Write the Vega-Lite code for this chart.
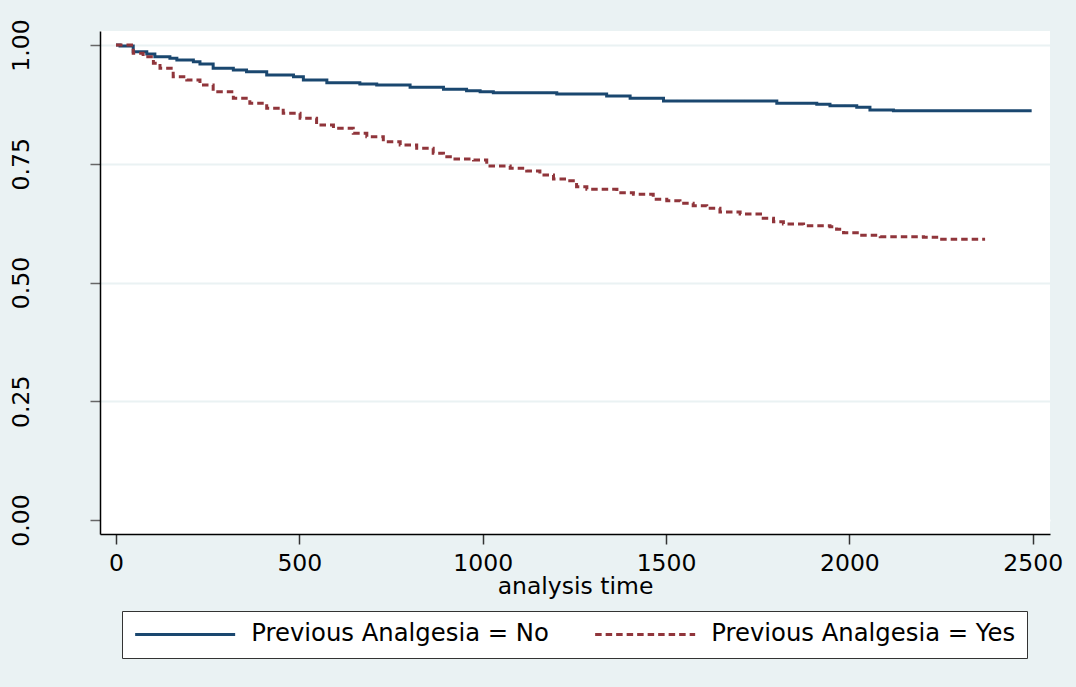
{
  "$schema": "https://vega.github.io/schema/vega-lite/v6.json",
  "autosize": {"type": "none"},
  "width": 950,
  "height": 503,
  "padding": {"left": 100, "top": 31, "right": 26, "bottom": 153},
  "background": "#EAF2F3",
  "config": {
    "view": {"stroke": null, "fill": "white"},
    "font": "DejaVu Sans"
  },
  "data": {
    "values": [
      {"group": "Previous Analgesia = No", "t": 0, "s": 1.0},
      {"group": "Previous Analgesia = No", "t": 11, "s": 0.9979},
      {"group": "Previous Analgesia = No", "t": 47, "s": 0.9859},
      {"group": "Previous Analgesia = No", "t": 84, "s": 0.9811},
      {"group": "Previous Analgesia = No", "t": 106, "s": 0.9754},
      {"group": "Previous Analgesia = No", "t": 147, "s": 0.972},
      {"group": "Previous Analgesia = No", "t": 166, "s": 0.9684},
      {"group": "Previous Analgesia = No", "t": 211, "s": 0.9648},
      {"group": "Previous Analgesia = No", "t": 229, "s": 0.96},
      {"group": "Previous Analgesia = No", "t": 265, "s": 0.9509},
      {"group": "Previous Analgesia = No", "t": 320, "s": 0.9474},
      {"group": "Previous Analgesia = No", "t": 356, "s": 0.9438},
      {"group": "Previous Analgesia = No", "t": 411, "s": 0.9368},
      {"group": "Previous Analgesia = No", "t": 484, "s": 0.9333},
      {"group": "Previous Analgesia = No", "t": 511, "s": 0.9263},
      {"group": "Previous Analgesia = No", "t": 575, "s": 0.9206},
      {"group": "Previous Analgesia = No", "t": 665, "s": 0.9179},
      {"group": "Previous Analgesia = No", "t": 711, "s": 0.9158},
      {"group": "Previous Analgesia = No", "t": 802, "s": 0.9109},
      {"group": "Previous Analgesia = No", "t": 893, "s": 0.9067},
      {"group": "Previous Analgesia = No", "t": 956, "s": 0.9038},
      {"group": "Previous Analgesia = No", "t": 993, "s": 0.9017},
      {"group": "Previous Analgesia = No", "t": 1029, "s": 0.8996},
      {"group": "Previous Analgesia = No", "t": 1202, "s": 0.8968},
      {"group": "Previous Analgesia = No", "t": 1338, "s": 0.8926},
      {"group": "Previous Analgesia = No", "t": 1402, "s": 0.8878},
      {"group": "Previous Analgesia = No", "t": 1493, "s": 0.8821},
      {"group": "Previous Analgesia = No", "t": 1802, "s": 0.8773},
      {"group": "Previous Analgesia = No", "t": 1911, "s": 0.8752},
      {"group": "Previous Analgesia = No", "t": 1947, "s": 0.8722},
      {"group": "Previous Analgesia = No", "t": 2020, "s": 0.8688},
      {"group": "Previous Analgesia = No", "t": 2056, "s": 0.8632},
      {"group": "Previous Analgesia = No", "t": 2120, "s": 0.8617},
      {"group": "Previous Analgesia = No", "t": 2497, "s": 0.8617},
      {"group": "Previous Analgesia = Yes", "t": 0, "s": 1.0},
      {"group": "Previous Analgesia = Yes", "t": 47, "s": 0.9825},
      {"group": "Previous Analgesia = Yes", "t": 74, "s": 0.9754},
      {"group": "Previous Analgesia = Yes", "t": 102, "s": 0.9615},
      {"group": "Previous Analgesia = Yes", "t": 120, "s": 0.9509},
      {"group": "Previous Analgesia = Yes", "t": 156, "s": 0.9333},
      {"group": "Previous Analgesia = Yes", "t": 193, "s": 0.9263},
      {"group": "Previous Analgesia = Yes", "t": 229, "s": 0.9158},
      {"group": "Previous Analgesia = Yes", "t": 265, "s": 0.9017},
      {"group": "Previous Analgesia = Yes", "t": 320, "s": 0.8878},
      {"group": "Previous Analgesia = Yes", "t": 365, "s": 0.8773},
      {"group": "Previous Analgesia = Yes", "t": 411, "s": 0.8667},
      {"group": "Previous Analgesia = Yes", "t": 456, "s": 0.8562},
      {"group": "Previous Analgesia = Yes", "t": 502, "s": 0.8457},
      {"group": "Previous Analgesia = Yes", "t": 547, "s": 0.8316},
      {"group": "Previous Analgesia = Yes", "t": 593, "s": 0.8246},
      {"group": "Previous Analgesia = Yes", "t": 647, "s": 0.8141},
      {"group": "Previous Analgesia = Yes", "t": 684, "s": 0.807},
      {"group": "Previous Analgesia = Yes", "t": 729, "s": 0.7964},
      {"group": "Previous Analgesia = Yes", "t": 775, "s": 0.7895},
      {"group": "Previous Analgesia = Yes", "t": 820, "s": 0.7825},
      {"group": "Previous Analgesia = Yes", "t": 865, "s": 0.772},
      {"group": "Previous Analgesia = Yes", "t": 893, "s": 0.7649},
      {"group": "Previous Analgesia = Yes", "t": 920, "s": 0.76},
      {"group": "Previous Analgesia = Yes", "t": 975, "s": 0.7579},
      {"group": "Previous Analgesia = Yes", "t": 1011, "s": 0.7453},
      {"group": "Previous Analgesia = Yes", "t": 1075, "s": 0.7404},
      {"group": "Previous Analgesia = Yes", "t": 1120, "s": 0.7347},
      {"group": "Previous Analgesia = Yes", "t": 1156, "s": 0.7263},
      {"group": "Previous Analgesia = Yes", "t": 1193, "s": 0.7179},
      {"group": "Previous Analgesia = Yes", "t": 1229, "s": 0.7143},
      {"group": "Previous Analgesia = Yes", "t": 1256, "s": 0.7017},
      {"group": "Previous Analgesia = Yes", "t": 1284, "s": 0.6962},
      {"group": "Previous Analgesia = Yes", "t": 1366, "s": 0.6891},
      {"group": "Previous Analgesia = Yes", "t": 1411, "s": 0.6857},
      {"group": "Previous Analgesia = Yes", "t": 1465, "s": 0.6752},
      {"group": "Previous Analgesia = Yes", "t": 1502, "s": 0.6722},
      {"group": "Previous Analgesia = Yes", "t": 1538, "s": 0.6667},
      {"group": "Previous Analgesia = Yes", "t": 1574, "s": 0.6617},
      {"group": "Previous Analgesia = Yes", "t": 1611, "s": 0.6562},
      {"group": "Previous Analgesia = Yes", "t": 1647, "s": 0.6484},
      {"group": "Previous Analgesia = Yes", "t": 1702, "s": 0.6442},
      {"group": "Previous Analgesia = Yes", "t": 1765, "s": 0.6352},
      {"group": "Previous Analgesia = Yes", "t": 1793, "s": 0.628},
      {"group": "Previous Analgesia = Yes", "t": 1820, "s": 0.6232},
      {"group": "Previous Analgesia = Yes", "t": 1875, "s": 0.6196},
      {"group": "Previous Analgesia = Yes", "t": 1947, "s": 0.6175},
      {"group": "Previous Analgesia = Yes", "t": 1965, "s": 0.612},
      {"group": "Previous Analgesia = Yes", "t": 1984, "s": 0.6048},
      {"group": "Previous Analgesia = Yes", "t": 2029, "s": 0.5994},
      {"group": "Previous Analgesia = Yes", "t": 2084, "s": 0.5964},
      {"group": "Previous Analgesia = Yes", "t": 2202, "s": 0.5952},
      {"group": "Previous Analgesia = Yes", "t": 2238, "s": 0.5909},
      {"group": "Previous Analgesia = Yes", "t": 2370, "s": 0.5909}
    ]
  },
  "mark": {"type": "line", "interpolate": "step-after", "strokeWidth": 3},
  "encoding": {
    "x": {
      "field": "t",
      "type": "quantitative",
      "scale": {"domain": [-43.6, 2547], "nice": false, "zero": false},
      "axis": {
        "title": "analysis time",
        "values": [0, 500, 1000, 1500, 2000, 2500],
        "format": "d",
        "grid": false,
        "domainColor": "black",
        "domainWidth": 1.5,
        "tickColor": "#333333",
        "tickWidth": 1.5,
        "tickSize": 10,
        "labelPadding": 7,
        "labelFontSize": 23.5,
        "labelColor": "black",
        "titleFontSize": 23.5,
        "titleFontWeight": "normal",
        "titleColor": "black",
        "titlePadding": 0
      }
    },
    "y": {
      "field": "s",
      "type": "quantitative",
      "scale": {"domain": [-0.0295, 1.0295], "nice": false, "zero": false},
      "axis": {
        "title": null,
        "values": [0, 0.25, 0.5, 0.75, 1],
        "format": ".2f",
        "grid": true,
        "gridColor": {"condition": {"test": "datum.value === 0", "value": "white"}, "value": "#EAF2F3"},
        "gridWidth": 2,
        "domainColor": "black",
        "domainWidth": 1.5,
        "tickColor": "#666666",
        "tickWidth": 1.5,
        "tickSize": 10,
        "labelAngle": 270,
        "labelAlign": "center",
        "labelBaseline": "alphabetic",
        "labelPadding": 62,
        "labelFontSize": 23.5,
        "labelColor": "black"
      }
    },
    "color": {
      "field": "group",
      "type": "nominal",
      "scale": {
        "domain": ["Previous Analgesia = No", "Previous Analgesia = Yes"],
        "range": ["#1A476F", "#90353B"]
      },
      "legend": {
        "title": null,
        "orient": "none",
        "legendX": 22,
        "legendY": 580,
        "direction": "horizontal",
        "symbolType": "M-5,0H5",
        "symbolSize": 400,
        "symbolOffset": 40,
        "symbolStrokeWidth": 3,
        "labelOffset": 54,
        "labelFontSize": 24.3,
        "labelColor": "black",
        "labelLimit": 0,
        "columnPadding": 40,
        "padding": 11,
        "strokeColor": "#333333",
        "fillColor": "white"
      }
    },
    "strokeDash": {
      "field": "group",
      "type": "nominal",
      "scale": {
        "domain": ["Previous Analgesia = No", "Previous Analgesia = Yes"],
        "range": [[1, 0], [6.5, 4]]
      },
      "legend": {
        "title": null,
        "orient": "none",
        "legendX": 22,
        "legendY": 580,
        "direction": "horizontal",
        "symbolType": "M-5,0H5",
        "symbolSize": 400,
        "symbolOffset": 40,
        "symbolStrokeWidth": 3,
        "labelOffset": 54,
        "labelFontSize": 24.3,
        "labelColor": "black",
        "labelLimit": 0,
        "columnPadding": 40,
        "padding": 11,
        "strokeColor": "#333333",
        "fillColor": "white"
      }
    }
  }
}
